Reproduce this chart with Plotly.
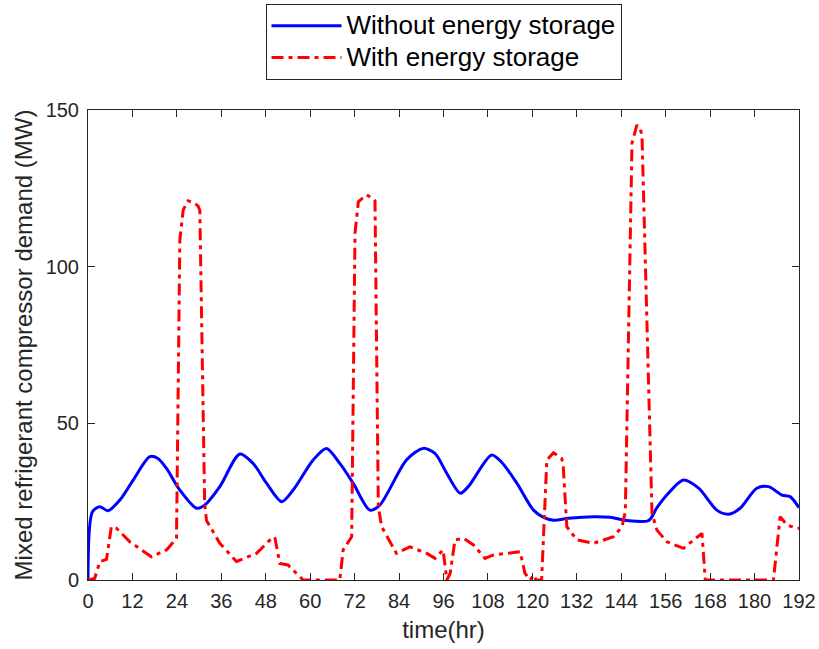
import plotly.graph_objects as go

# Without energy storage (blue, solid)
t_without = [0, 1.2, 3.2, 5.4, 8.6, 12.2, 16.7, 18.9, 21.2, 24.8, 29.3, 31.5, 35.6, 41, 44.6,
             48.2, 52.3, 55.4, 60.8, 64.4, 68, 71.6, 76.1, 78.8, 86, 90.5, 93.7, 96.9, 100.5,
             102.7, 109, 111.7, 115.8, 120.3, 123, 125.7, 129.7, 136.5, 141, 145.5, 151.4,
             153.6, 156.3, 160.8, 164.9, 169.8, 173, 176.1, 180.6, 183.8, 187.4, 189.6, 192]
p_without = [0, 21.8, 23.4, 22.1, 25.5, 31.9, 39.4, 38.8, 35.6, 28.7, 22.9, 23.9, 29.8, 40.2, 37.2,
             30.9, 25, 28.7, 38.3, 42, 37.2, 30.9, 22.3, 23.9, 38.3, 42, 40.4, 34, 27.7,
             29.8, 39.9, 37.6, 30.9, 22.3, 20, 19.1, 19.7, 20.2, 20, 19, 19,
             23, 27.1, 31.9, 29.3, 22.3, 21, 22.9, 29.3, 29.8, 27.1, 26.6, 23.1]

# With energy storage (red, dash-dot)
t_with = [0, 1.8, 3.2, 5, 6.3, 7.7, 11.3, 17.1, 21.2, 23.9, 24.8, 25.7, 27, 28.5, 29.7, 30.2,
          31.5, 32, 35.6, 40.1, 45.5, 50, 50.5, 51.8, 54, 58.1, 65.4, 68, 68.9, 71.2, 72.1,
          73, 75.2, 77, 77.5, 78.4, 79.3, 83.3, 86.9, 91.5, 93.7, 95.9, 96.9, 97.8, 99.1,
          101.4, 104.1, 107.2, 109.5, 116.7, 118, 119.4, 120.3, 121, 122.5, 123.9, 125.7,
          127.9, 128.3, 129.3, 132, 136.5, 141.9, 144.2, 145.1, 146.4, 146.9, 148.2, 149.1,
          149.6, 152.3, 153.6, 156.3, 160.8, 163.5, 165.8, 166.7, 185.1, 186.9, 188.8, 191.5, 192]
p_with = [0, 0.5, 5.9, 6.6, 17, 16.5, 12.2, 7.4, 9.6, 13.3, 108.5, 118.1, 121, 120.5, 119.4, 118,
          24.5, 19, 11.7, 5.9, 8.5, 13.8, 13.3, 5.3, 4.8, 0, 0, 0, 9.6, 13.8, 110.6,
          120.7, 122.9, 121.8, 121, 23.4, 17, 8.5, 10.6, 8.5, 6.9, 9.6, 0, 2.1, 12.8,
          13.3, 11.2, 6.9, 8, 9, 2.1, 0, 1.6, 0, 0, 38.3, 40.6,
          38.8, 37, 17, 12.8, 11.7, 13.8, 17, 21.8, 110.6, 139.4, 145.2, 144,
          142, 21.3, 16, 12.2, 10.1, 12.8, 14.9, 0, 0, 20.2, 17.5, 16.5, 16.5]

series_names = ["Without energy storage", "With energy storage"]
x_ticks = list(range(0, 193, 12))
y_ticks = [0, 50, 100, 150]

axis_color = "#262626"
font_family = "Liberation Sans, Arial, sans-serif"


def legend_label(text):
    return '<span style="font-size:26px">' + text + "</span>"


fig = go.Figure()
fig.add_trace(go.Scatter(x=t_without, y=p_without, mode="lines", name=legend_label(series_names[0]),
                         line=dict(color="#0000FF", width=3, shape="spline", smoothing=0.8)))
fig.add_trace(go.Scatter(x=t_with, y=p_with, mode="lines", name=legend_label(series_names[1]),
                         line=dict(color="#FF0000", width=3, dash="12px,5px,4px,5px")))

fig.update_layout(
    width=819, height=649,
    margin=dict(l=88, r=20, t=110, b=69, autoexpand=False),
    paper_bgcolor="white", plot_bgcolor="white",
    font=dict(family=font_family, color=axis_color),
    showlegend=True,
    legend=dict(
        x=0.5, xanchor="center", xref="paper",
        y=1 - 4 / 649, yanchor="top", yref="container",
        bgcolor="white", bordercolor=axis_color, borderwidth=1,
        font=dict(size=22, color="black", family=font_family),
        itemwidth=70, tracegroupgap=0,
    ),
    xaxis=dict(
        range=[0, 192], tickvals=x_ticks, ticktext=[str(v) for v in x_ticks],
        ticks="inside", ticklen=7, tickcolor=axis_color, mirror="ticks",
        showline=True, linecolor=axis_color, linewidth=1, showgrid=False, zeroline=False,
        tickfont=dict(size=20, color=axis_color), automargin=False,
        title=dict(text="time(hr)", font=dict(size=24, color=axis_color), standoff=10),
        ticklabelstandoff=3,
    ),
    yaxis=dict(
        range=[0, 150], tickvals=y_ticks, automargin=False,
        ticks="inside", ticklen=7, tickcolor=axis_color, mirror="ticks",
        showline=True, linecolor=axis_color, linewidth=1, showgrid=False, zeroline=False,
        tickfont=dict(size=20, color=axis_color),
        title=dict(text="Mixed refrigerant compressor demand (MW)", font=dict(size=24, color=axis_color), standoff=6),
        ticklabelstandoff=4,
    ),
)

fig.write_html("out.html")
